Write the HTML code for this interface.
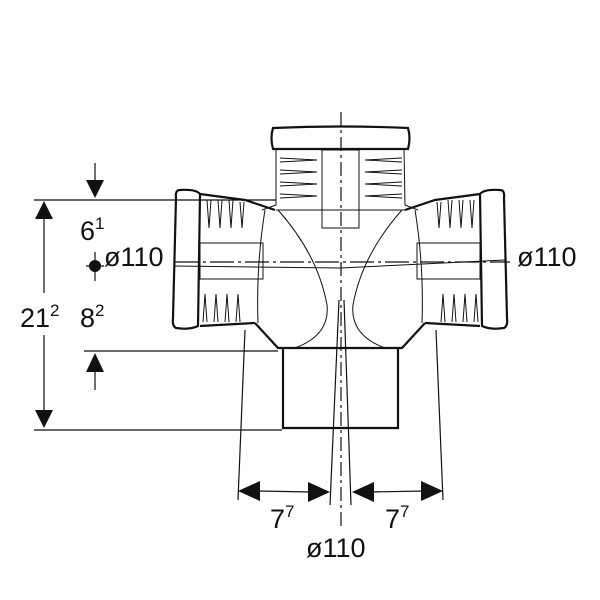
<!DOCTYPE html>
<html><head><style>
html,body{margin:0;padding:0;background:#fff;width:600px;height:600px;overflow:hidden}
svg text{font-family:"Liberation Sans",sans-serif;fill:#111}
</style></head><body>
<svg width="600" height="600" viewBox="0 0 600 600" xmlns="http://www.w3.org/2000/svg">
<g stroke="#111" fill="none">
<line x1="34" y1="200" x2="276" y2="200" stroke-width="1.2"/>
<line x1="84" y1="351" x2="278" y2="351" stroke-width="1.2"/>
<line x1="34" y1="430" x2="282" y2="430" stroke-width="1.2"/>
<line x1="44" y1="215" x2="44" y2="293" stroke-width="1.2"/>
<line x1="44" y1="335" x2="44" y2="412" stroke-width="1.2"/>
<line x1="95" y1="163" x2="95" y2="182" stroke-width="1.2"/>
<line x1="95" y1="372" x2="95" y2="390" stroke-width="1.2"/>
<line x1="95" y1="252" x2="95" y2="281" stroke-width="1.2"/>
<line x1="86" y1="266" x2="104" y2="266" stroke-width="1.2"/>
<line x1="245" y1="330" x2="238" y2="500" stroke-width="1.2"/>
<line x1="436" y1="330" x2="443" y2="500" stroke-width="1.2"/>
<line x1="339" y1="300" x2="330" y2="505" stroke-width="1.2"/>
<line x1="344" y1="300" x2="351" y2="505" stroke-width="1.2"/>
<line x1="258" y1="491" x2="312" y2="492" stroke-width="1.2"/>
<line x1="370" y1="492" x2="424" y2="491" stroke-width="1.2"/>
</g>
<g fill="#111">
<polygon points="35,219 53,219 44,201"/>
<polygon points="35,410 53,410 44,428"/>
<polygon points="86,180 104,180 95,198"/>
<polygon points="86,372 104,372 95,353"/>
<circle cx="95" cy="266" r="6"/>
<polygon points="238,491 260,481 260,501"/>
<polygon points="330,492 308,482 308,502"/>
<polygon points="352,492 374,482 374,502"/>
<polygon points="443,491 421,481 421,501"/>
</g>
<g stroke="#111" fill="none" stroke-width="1">
<!-- top cap -->
<path d="M273,128 Q340,125 408,128 Q411,138 408,149 L273,149 Q270,138 273,128 Z" stroke-width="2.2"/>
<path d="M276,149 L276,205 L262,210 M404,149 L405,205 L418,210"/>
<rect x="322" y="150" width="37" height="78"/>
<line x1="276" y1="210" x2="405" y2="210"/>
<!-- left hub -->
<path d="M200,194 L245,200 L275,210 M200,326 L255,323" stroke-width="2.2"/>
<path d="M180,190 Q196,189 200,194 L198,326 Q190,330 176,328 Q172,326 173,318 L176,198 Q175,190 180,190 Z" stroke-width="2.2"/>
<path d="M265,210 Q256,265 258,323"/>
<rect x="200" y="243" width="63" height="36"/>
<!-- right hub -->
<path d="M480,194 L435,200 L405,210 M480,326 L425,323" stroke-width="2.2"/>
<path d="M500,190 Q484,189 480,194 L482,326 Q490,330 504,328 Q508,326 507,318 L504,198 Q505,190 500,190 Z" stroke-width="2.2"/>
<path d="M415,210 Q424,265 422,323"/>
<rect x="417" y="243" width="63" height="36"/>
<!-- body -->
<path d="M255,323 L278,348 L402,348 L425,323" stroke-width="2.2"/>
<path d="M278,210 Q318,255 327,305 Q330,335 295,348"/>
<path d="M402,210 Q362,255 353,305 Q350,335 385,348"/>
<path d="M283,348 L283,428 L398,428 L398,348" stroke-width="2.2"/>
</g>
<g stroke="#111" stroke-width="1.2" fill="none">
<line x1="341" y1="112" x2="341" y2="530" stroke-dasharray="14,4,3,4"/>
<line x1="175" y1="262" x2="510" y2="262" stroke-dasharray="24,4,3,4"/>
<line x1="175" y1="266" x2="340" y2="268" stroke-width="1"/>
<line x1="340" y1="268" x2="505" y2="260" stroke-width="1"/>
</g>
<g stroke="#111" stroke-width="1" fill="none">
<path d="M280,158 L317,160 L280,162 M280,170 L317,172 L280,174 M280,182 L317,184 L280,186 M280,194 L317,196 L280,198"/>
<path d="M402,158 L365,160 L402,162 M402,170 L365,172 L402,174 M402,182 L365,184 L402,186 M402,194 L365,196 L402,198"/>
<path d="M207,200 L209,228 L211,200 M218,200 L220,228 L222,200 M229,200 L231,228 L233,200 M240,202 L242,228 L244,202"/>
<path d="M203,322 L205,294 L207,322 M214,322 L216,294 L218,322 M225,322 L227,294 L229,322 M236,322 L238,294 L240,322"/>
<path d="M474,200 L472,228 L470,200 M463,200 L461,228 L459,200 M452,200 L450,228 L448,200 M441,202 L439,228 L437,202"/>
<path d="M478,322 L476,294 L474,322 M467,322 L465,294 L463,322 M456,322 L454,294 L452,322 M445,322 L443,294 L441,322"/>
</g>
<g font-size="27">
<text x="80" y="240">6<tspan font-size="17" dy="-11">1</tspan></text>
<text x="104" y="266">ø110</text>
<text x="517" y="266">ø110</text>
<text x="20" y="327">21<tspan font-size="17" dy="-11">2</tspan></text>
<text x="80" y="327">8<tspan font-size="17" dy="-11">2</tspan></text>
<text x="270" y="528">7<tspan font-size="17" dy="-11">7</tspan></text>
<text x="385" y="528">7<tspan font-size="17" dy="-11">7</tspan></text>
<text x="306" y="557">ø110</text>
</g>
</svg>
</body></html>
